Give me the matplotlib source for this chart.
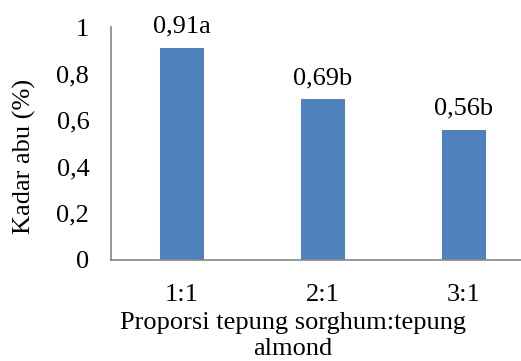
import matplotlib
matplotlib.use("Agg")
import matplotlib.pyplot as plt
import numpy as np

categories = ["1:1", "2:1", "3:1"]
values = [0.91, 0.69, 0.56]
labels = ["0,91a", "0,69b", "0,56b"]
yticks = [0, 0.2, 0.4, 0.6, 0.8, 1]
ytick_labels = ["0", "0,2", "0,4", "0,6", "0,8", "1"]

plt.rcParams['font.family'] = ['Liberation Serif', 'DejaVu Serif']
fs = 19

fig = plt.figure(figsize=(5.21, 3.61), dpi=100)
ax = fig.add_axes([0.214, 0.28, 0.812, 0.645])

x = np.arange(len(categories))
ax.bar(x, values, width=0.312, color='#4F81BD')
for xi, v, lab in zip(x, values, labels):
    ax.annotate(lab, (xi, v), xytext=(0, 11), textcoords='offset points',
                ha='center', va='baseline', fontsize=fs)

ax.set_xlim(-0.5, 2.5)
ax.set_ylim(0, 1)
ax.set_yticks(yticks)
ax.set_yticklabels(ytick_labels, fontsize=fs)
ax.set_xticks(x)
ax.set_xticklabels(categories, fontsize=fs)
ax.tick_params(length=0)
ax.tick_params(axis='y', pad=16)
ax.tick_params(axis='x', pad=17)

for s in ['top', 'right']:
    ax.spines[s].set_visible(False)
for s in ['left', 'bottom']:
    ax.spines[s].set_color('#868686')
    ax.spines[s].set_linewidth(1.2)

ax.set_ylabel("Kadar abu (%)", fontsize=fs)
ax.yaxis.set_label_coords(-0.178, 0.444)
ax.set_xlabel("Proporsi tepung sorghum:tepung\nalmond", fontsize=fs,
              linespacing=1.24)
ax.xaxis.set_label_coords(0.429, -0.224)
ax.xaxis.label.set_va('top')

fig.savefig("out.png", dpi=100)
